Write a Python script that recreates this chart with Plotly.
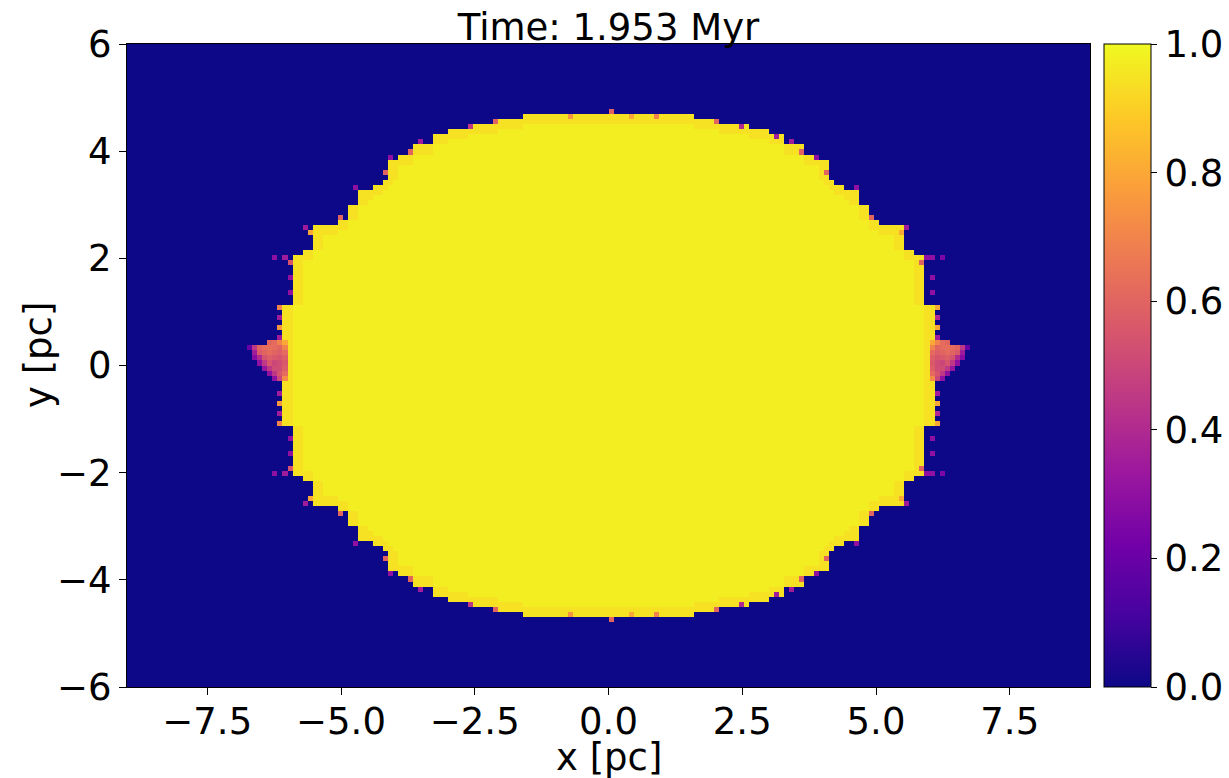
import numpy as np
import plotly.graph_objects as go

# ---------------- data ----------------
title_text = "Time: 1.953 Myr"
x_title = "x [pc]"
y_title = "y [pc]"
x_ticks = [-7.5, -5.0, -2.5, 0.0, 2.5, 5.0, 7.5]
y_ticks = [-6, -4, -2, 0, 2, 4, 6]
cbar_ticks = [0.0, 0.2, 0.4, 0.6, 0.8, 1.0]

nx, ny = 192, 128
x_min, x_max = -9.0, 9.0
y_min, y_max = -6.0, 6.0

# ionised-region boundary: upper |y| of each band (pc) and its half-width (pc)
band_abs_y = [1.10, 2.03, 2.15, 2.62, 2.72, 2.98, 3.27, 3.38, 3.48, 3.82,
              3.93, 4.08, 4.17, 4.28, 4.38, 4.48, 4.58, 4.69]
band_half_width = [6.05, 5.92, 5.72, 5.52, 5.02, 4.88, 4.70, 4.42, 4.22, 4.13,
                   3.90, 3.65, 3.45, 3.30, 3.00, 2.58, 2.10, 1.62]

interior_value = 0.975
rim_value = 0.945

# scattered fringe cells on the upper half (mirrored onto the lower half)
fringe_x = [0.00, -2.08, -2.59, -3.49, -3.67, -4.05, -4.18, -4.78, -5.02, -5.67,
            -5.58, -6.28, -6.19, -6.09, -5.97, -6.00, -6.00, -6.16, -6.16, -6.16,
            -6.16, 0.93, 2.03, 2.50, 3.15, 3.43, 3.62, 3.90, 4.10, 4.64,
            4.94, 5.58, 5.50, 5.97, 6.09, 6.19, 5.90, 6.00, 6.00, 6.10,
            6.10, 6.10, 6.10, -0.75, 0.40]
fringe_y = [4.72, 4.54, 4.46, 4.16, 3.98, 3.90, 3.60, 3.34, 2.78, 2.58,
            2.50, 2.03, 2.03, 2.03, 1.95, 1.62, 1.40, 1.08, 0.90, 0.72,
            0.55, 4.65, 4.54, 4.46, 4.27, 4.16, 3.98, 3.90, 3.60, 3.34,
            2.78, 2.58, 2.50, 2.03, 2.03, 2.03, 1.90, 1.62, 1.35, 1.08,
            0.90, 0.72, 0.55, 4.65, 4.65]
fringe_val = [0.60, 0.60, 0.45, 0.35, 0.60, 0.30, 0.60, 0.30, 0.60, 0.35,
              0.80, 0.25, 0.30, 0.35, 0.55, 0.30, 0.30, 0.70, 0.35, 0.75,
              0.35, 0.70, 0.60, 0.40, 0.35, 0.35, 0.60, 0.30, 0.60, 0.30,
              0.60, 0.35, 0.80, 0.30, 0.30, 0.25, 0.60, 0.30, 0.30, 0.80,
              0.40, 0.80, 0.35, 0.75, 0.80]

# equatorial protrusion (rows top -> bottom, columns outward from the rim)
protrusion_top_y = 0.39
protrusion_rim_x = 6.00
protrusion = [
    [0.80, 0.70, 0.62, 0.60, 0.00, 0.00, 0.00, 0.00],
    [0.70, 0.60, 0.62, 0.63, 0.62, 0.60, 0.45, 0.20],
    [0.62, 0.58, 0.60, 0.62, 0.60, 0.56, 0.35, 0.00],
    [0.58, 0.55, 0.56, 0.58, 0.54, 0.40, 0.28, 0.00],
    [0.56, 0.52, 0.50, 0.55, 0.45, 0.30, 0.00, 0.00],
    [0.58, 0.52, 0.52, 0.45, 0.32, 0.00, 0.00, 0.00],
    [0.62, 0.55, 0.45, 0.30, 0.00, 0.00, 0.00, 0.00],
    [0.72, 0.50, 0.30, 0.00, 0.00, 0.00, 0.00, 0.00],
]

# ---------------- build the grid ----------------
dx = (x_max - x_min) / nx
dy = (y_max - y_min) / ny
xc = x_min + (np.arange(nx) + 0.5) * dx
yc = y_min + (np.arange(ny) + 0.5) * dy
X, Y = np.meshgrid(xc, yc)

hw = np.full(ny, -1.0)
prev = 0.0
for top, w in zip(band_abs_y, band_half_width):
    sel = (np.abs(yc) >= prev) & (np.abs(yc) < top)
    hw[sel] = w
    prev = top
filled = np.abs(X) < hw[:, None]

inner = filled.copy()
for s in (1, 2):
    inner &= np.roll(filled, s, 0) & np.roll(filled, -s, 0)
    inner &= np.roll(filled, s, 1) & np.roll(filled, -s, 1)

z = np.zeros((ny, nx))
z[filled] = rim_value
z[inner] = interior_value

def cell(xv, yv):
    i = int(np.floor((xv - x_min) / dx))
    j = int(np.floor((yv - y_min) / dy))
    return min(max(i, 0), nx - 1), min(max(j, 0), ny - 1)

for fx, fy, fv in zip(fringe_x, fringe_y, fringe_val):
    for sy in (1, -1):
        i, j = cell(fx, sy * fy)
        z[j, i] = fv

i0, j0 = cell(protrusion_rim_x, protrusion_top_y)
for r, row in enumerate(protrusion):
    for c, v in enumerate(row):
        if v > 0:
            j = j0 - r
            z[j, i0 + c] = v
            z[j, nx - 1 - (i0 + c)] = v

# ---------------- figure ----------------
FONT = "DejaVu Sans"
FS = 37
W, H = 1229, 778
L, R, T, B = 127, 1090, 44, 687
PW, PH = R - L, B - T

fig = go.Figure(go.Heatmap(
    z=z, x0=xc[0], dx=dx, y0=yc[0], dy=dy,
    colorscale="Plasma", zmin=0, zmax=1, zsmooth=False,
    showscale=True,
    colorbar=dict(
        x=1 + 14 / PW, xanchor="left", xpad=0,
        y=0.5, yanchor="middle", ypad=0, len=1, lenmode="fraction",
        thickness=47, outlinewidth=1, outlinecolor="black",
        ticks="outside", ticklen=6, tickwidth=1, tickcolor="black",
        tickvals=cbar_ticks, ticktext=[f"{v:.1f}" for v in cbar_ticks],
        tickfont=dict(family=FONT, size=FS, color="black"),
    ),
))

fig.update_layout(
    width=W, height=H,
    margin=dict(l=L, r=W - R, t=T, b=H - B, pad=0, autoexpand=False),
    paper_bgcolor="white", plot_bgcolor="white",
    font=dict(family=FONT, size=FS, color="black"),
    title=dict(text=title_text, x=0.5, xref="paper", xanchor="center",
               y=1, yref="paper", yanchor="bottom", pad=dict(b=4),
               font=dict(family=FONT, size=FS, color="black")),
    xaxis=dict(range=[x_min, x_max], tickvals=x_ticks,
               ticktext=[f"{v:.1f}".replace("-", "\u2212") for v in x_ticks],
               ticks="outside", ticklen=7, tickcolor="black", tickwidth=1,
               ticklabelstandoff=-5,
               showline=True, linecolor="black", linewidth=1, mirror=True,
               showgrid=False, zeroline=False, automargin=False),
    yaxis=dict(range=[y_min, y_max], tickvals=y_ticks,
               ticktext=[f"{v:d}".replace("-", "\u2212") for v in y_ticks],
               ticks="outside", ticklen=7, tickcolor="black", tickwidth=1,
               showline=True, linecolor="black", linewidth=1, mirror=True,
               showgrid=False, zeroline=False, automargin=False),
    annotations=[
        dict(text=x_title, xref="paper", yref="paper", x=0.5,
             y=-(757 - B) / PH, xanchor="center", yanchor="middle",
             showarrow=False, font=dict(family=FONT, size=FS, color="black")),
        dict(text=y_title, xref="paper", yref="paper", x=-(L - 38) / PW,
             y=(B - 355) / PH, xanchor="center", yanchor="middle", textangle=-90,
             showarrow=False, font=dict(family=FONT, size=FS, color="black")),
    ],
)

fig.write_html("out.html",
               config={"displayModeBar": False},
               post_script="document.body.style.margin='0';"
                           "document.body.style.overflow='hidden';")
